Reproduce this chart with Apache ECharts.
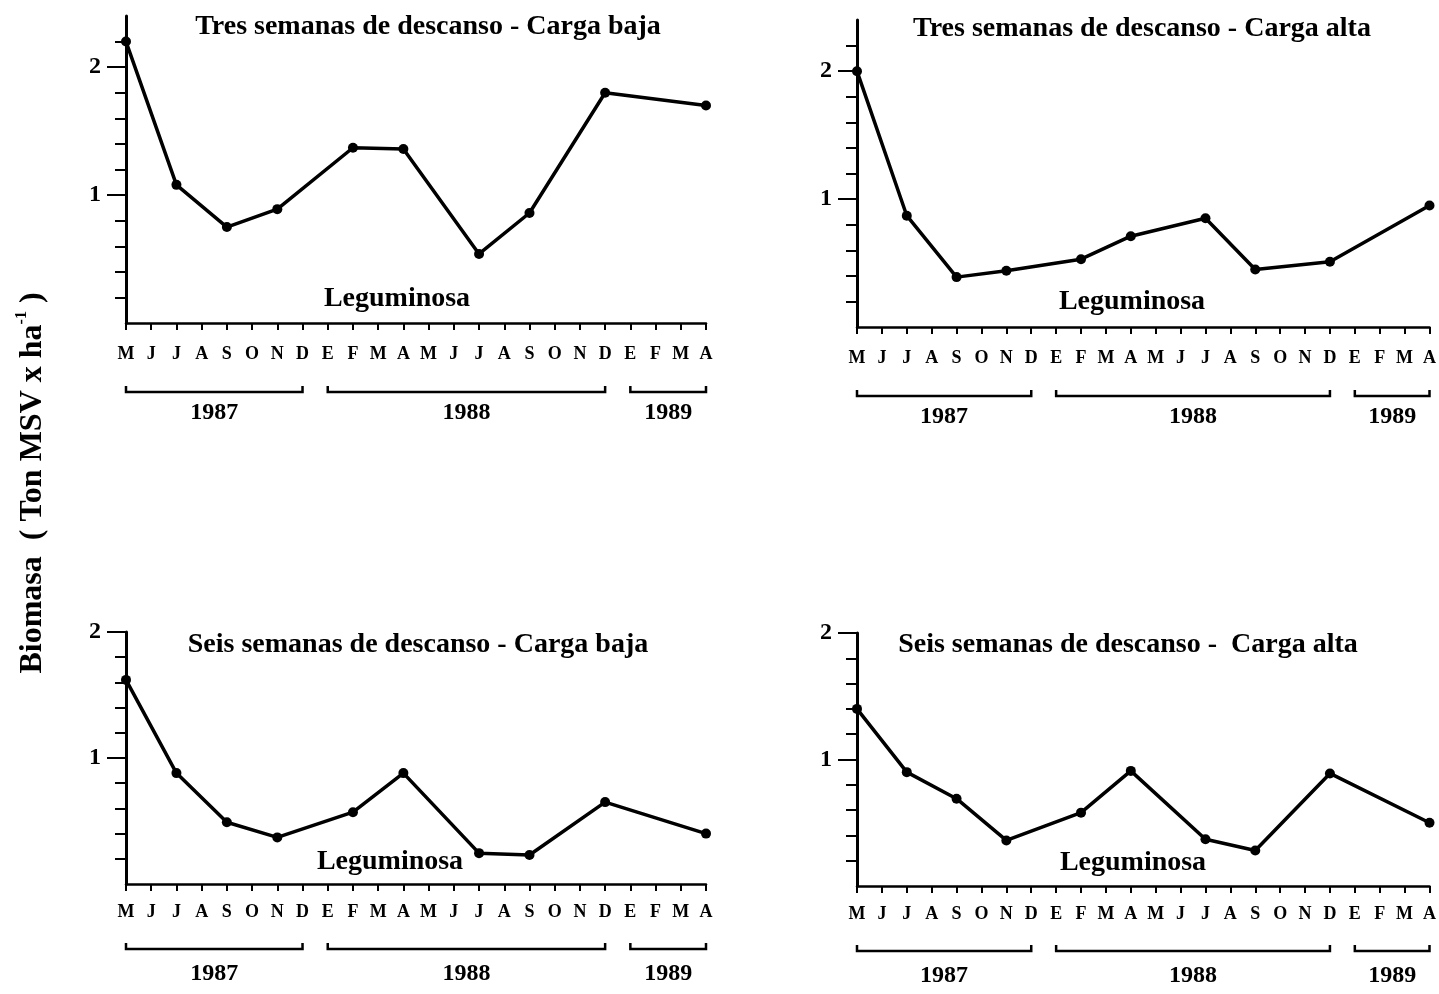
<!DOCTYPE html>
<html><head><meta charset="utf-8">
<script src="https://cdn.jsdelivr.net/npm/echarts@6/dist/echarts.min.js"></script>
<style>html,body{margin:0;padding:0;background:#fff}#c{width:1439px;height:994px}</style>
</head><body><div id="c"></div>
<script>
// ---- data ----
const monthLabels = ['M','J','J','A','S','O','N','D','E','F','M','A','M','J','J','A','S','O','N','D','E','F','M','A'];
const sampleMonths = [0, 2, 4, 6, 9, 11, 14, 16, 19, 23];
const tresBaja = [2.20, 1.08, 0.75, 0.89, 1.37, 1.36, 0.54, 0.86, 1.80, 1.70];
const tresAlta = [2.00, 0.87, 0.39, 0.44, 0.53, 0.71, 0.85, 0.45, 0.51, 0.95];
const seisBaja = [1.62, 0.88, 0.49, 0.37, 0.57, 0.88, 0.245, 0.23, 0.65, 0.40];
const seisAlta = [1.40, 0.90, 0.69, 0.36, 0.58, 0.91, 0.37, 0.28, 0.89, 0.50];
const panelTitles = ['Tres semanas de descanso - Carga baja', 'Tres semanas de descanso - Carga alta',
                     'Seis semanas de descanso - Carga baja', 'Seis semanas de descanso -  Carga alta'];
const noteLabel = 'Leguminosa';
const yearLabels = ['1987', '1988', '1989'];
const yearSpans = [[0, 7], [8, 19], [20, 23]];
const yMajorTicks = [1, 2];
const yMinorTicks = [0.2, 0.4, 0.6, 0.8, 1.2, 1.4, 1.6, 1.8, 2.2];
const yAxisTitle = 'Biomasa  ( Ton MSV x ha';
const yAxisTitleSup = '-1';

// ---- layout ----
const FONT = "'Liberation Serif', 'Times New Roman', serif";
const seriesValues = [tresBaja, tresAlta, seisBaja, seisAlta];
const panels = [
  {left: 126, top: 16, height: 307, max: 2.4, title: [428, 27], note: [397, 299], bracket: 69, lm: 22},
  {left: 857, top: 20, height: 307, max: 2.4, title: [1142, 29], note: [1132, 302], bracket: 69, lm: 22},
  {left: 126, top: 632, height: 252, max: 2, title: [418, 645], note: [390, 862], bracket: 65, lm: 19},
  {left: 857, top: 633, height: 253, max: 2, title: [1128, 645], note: [1133, 863], bracket: 65, lm: 19}
];

const chart = echarts.init(document.getElementById('c'), null, {renderer: 'canvas'});
const grid = [], xAxis = [], yAxis = [], series = [];
panels.forEach((p, i) => {
  grid.push({left: p.left, top: p.top, width: 580, height: p.height, containLabel: false});
  xAxis.push({
    type: 'category', gridIndex: i, data: monthLabels, boundaryGap: false,
    axisLine: {lineStyle: {color: '#000', width: 2.5}},
    axisTick: {show: true, interval: 0, length: 7, lineStyle: {color: '#000', width: 2}},
    axisLabel: {interval: 0, color: '#000', fontFamily: FONT, fontWeight: 'bold', fontSize: 18,
                margin: p.lm, hideOverlap: false},
    splitLine: {show: false}
  });
  yAxis.push({
    type: 'value', gridIndex: i, position: 'left', offset: 0, min: 0, max: p.max,
    axisLine: {show: true, lineStyle: {color: '#000', width: 3}},
    axisTick: {show: true, length: 11, customValues: yMinorTicks.filter(v => v < p.max), lineStyle: {color: '#000', width: 2}},
    axisLabel: {customValues: yMajorTicks, color: '#000', fontFamily: FONT, fontWeight: 'bold', fontSize: 24, margin: 25},
    splitLine: {show: false}
  });
  yAxis.push({
    type: 'value', gridIndex: i, position: 'left', offset: 0, min: 0, max: p.max,
    axisLine: {show: false},
    axisTick: {show: true, length: 19, customValues: yMajorTicks, lineStyle: {color: '#000', width: 2}},
    axisLabel: {show: false},
    splitLine: {show: false}
  });
  series.push({
    type: 'line', xAxisIndex: i, yAxisIndex: 2 * i,
    data: sampleMonths.map((m, k) => [m, seriesValues[i][k]]),
    symbol: 'circle', symbolSize: 10, clip: false,
    lineStyle: {color: '#000', width: 3.5}, itemStyle: {color: '#000'}
  });
});

chart.setOption({animation: false, backgroundColor: '#fff', grid, xAxis, yAxis, series});

// ---- annotations derived from the axes ----
const graphics = [];
panels.forEach((p, i) => {
  graphics.push({type: 'text', x: p.title[0], y: p.title[1],
    style: {text: panelTitles[i], font: `bold 28px ${FONT}`, fill: '#000', textAlign: 'center', textVerticalAlign: 'middle'}});
  graphics.push({type: 'text', x: p.note[0], y: p.note[1],
    style: {text: noteLabel, font: `bold 28px ${FONT}`, fill: '#000', textAlign: 'center', textVerticalAlign: 'middle'}});
  const axisY = chart.convertToPixel({yAxisIndex: 2 * i}, 0);
  const by = axisY + p.bracket;
  yearSpans.forEach((s, k) => {
    const x1 = chart.convertToPixel({xAxisIndex: i}, s[0]);
    const x2 = chart.convertToPixel({xAxisIndex: i}, s[1]);
    graphics.push({type: 'polyline', shape: {points: [[x1, by - 6], [x1, by], [x2, by], [x2, by - 6]]},
      style: {stroke: '#000', lineWidth: 2.5, fill: null}});
    graphics.push({type: 'text', x: (x1 + x2) / 2, y: axisY + 90,
      style: {text: yearLabels[k], font: `bold 24px ${FONT}`, fill: '#000', textAlign: 'center', textVerticalAlign: 'middle'}});
  });
});
graphics.push({type: 'text', x: 31, y: 483, rotation: Math.PI / 2,
  style: {text: '{m|' + yAxisTitle + '}{s|' + yAxisTitleSup + '}{m| )}',
    textAlign: 'center', textVerticalAlign: 'middle',
    rich: {m: {font: `bold 32px ${FONT}`, fill: '#000', verticalAlign: 'bottom', lineHeight: 35},
           s: {font: `bold 16px ${FONT}`, fill: '#000', verticalAlign: 'top', lineHeight: 35}}}});
chart.setOption({graphic: graphics});
</script></body></html>
